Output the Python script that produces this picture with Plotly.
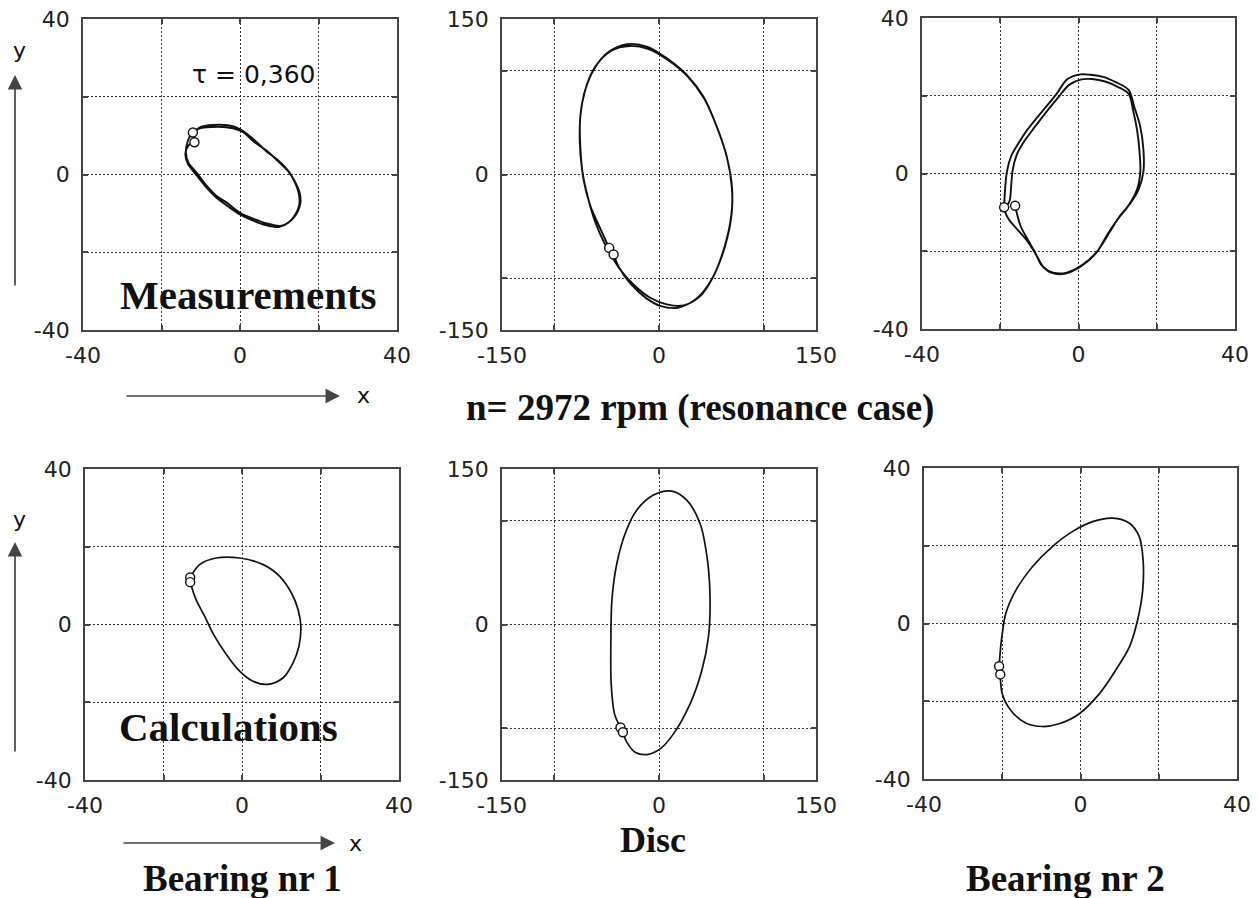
import plotly.graph_objects as go

# ---------------- data ----------------
# Measurements, bearing nr 1 (two revolutions)
meas_b1_x = [-12.0, -9.8, -5.0, -1.6, 0.3, 3.5, 6.9, 9.4, 12.0, 13.7, 15.2, 15.4, 14.5, 12.8, 10.3, 6.9, 3.5, 0.1, -3.3, -5.9, -8.4, -11.0, -13.1, -13.8, -13.3, -12.3,
             -10.5, -5.5, -1.8, 0.6, 3.8, 6.6, 9.6, 12.2, 13.9, 15.0, 15.1, 14.1, 12.3, 9.9, 6.5, 3.2, -0.2, -3.6, -6.2, -8.7, -11.3, -13.3, -13.9, -13.0, -11.6]
meas_b1_y = [10.8, 12.3, 12.8, 12.4, 11.5, 9.0, 5.8, 3.9, 1.3, -1.3, -4.7, -7.3, -9.9, -12.0, -13.2, -12.6, -11.4, -9.9, -7.3, -5.6, -3.0, 0.4, 3.0, 5.6, 8.6, 10.6,
             11.8, 12.3, 11.9, 11.0, 8.2, 6.3, 3.5, 0.9, -1.8, -5.0, -7.8, -10.3, -12.4, -13.5, -13.0, -11.8, -10.2, -7.8, -5.8, -3.2, 0.1, 2.8, 5.4, 7.6, 8.3]

# Measurements, disc (two revolutions)
meas_disc_x = [-47.6, -56.2, -65.7, -72.1, -75.2, -75.2, -70.5, -62.5, -49.8, -30.7, -11.6, 7.5, 26.5, 42.4, 55.2, 64.7, 69.5, 69.5, 63.1, 52.0, 39.3, 23.4, 7.5, -8.4, -24.4, -37.1, -45.0,
               -51.5, -60.5, -68.0, -73.5, -75.8, -74.0, -68.5, -59.5, -45.5, -28.0, -10.0, 8.5, 27.5, 43.0, 55.8, 65.0, 69.8, 69.0, 62.0, 50.5, 36.0, 18.0, 2.0, -12.0, -27.0, -38.0, -43.4]
meas_disc_y = [-70.8, -52.0, -30.0, -5.0, 27.1, 56.0, 81.6, 100.9, 116.9, 125.6, 123.4, 112.1, 96.1, 75.2, 46.3, 17.5, -11.4, -37.1, -69.2, -98.1, -117.3, -126.3, -125.3, -118.9, -106.1, -91.6, -79.0,
               -67.5, -47.0, -22.0, 5.0, 35.0, 66.0, 88.0, 106.0, 119.5, 124.0, 121.0, 110.5, 94.5, 73.5, 44.5, 16.0, -13.0, -40.0, -72.0, -101.0, -119.5, -128.5, -127.0, -119.5, -105.5, -90.0, -77.2]

# Measurements, bearing nr 2 (two revolutions)
meas_b2_x = [-19.0, -18.8, -18.3, -17.2, -15.5, -13.2, -10.5, -8.0, -5.6, -2.8, 0.5, 3.0, 6.5, 9.5, 12.8, 14.3, 15.8, 16.6, 16.6, 15.4, 13.0, 10.5, 8.0, 4.8, 1.0, -3.0, -6.5, -9.0, -10.5, -13.0, -16.0, -18.0, -18.8,
             -17.6, -17.2, -16.8, -15.8, -14.2, -12.2, -9.8, -7.4, -5.0, -2.4, 0.8, 3.5, 7.0, 10.0, 12.8, 14.0, 15.0, 15.6, 15.8, 15.0, 12.8, 10.0, 7.5, 4.5, 0.5, -3.5, -7.0, -9.5, -11.0, -12.5, -14.8, -16.2]
meas_b2_y = [-8.7, -4.5, 0.5, 4.5, 7.5, 11.1, 14.5, 17.5, 20.5, 24.3, 25.5, 25.4, 24.8, 23.5, 21.5, 17.0, 12.0, 6.0, 0.5, -4.0, -8.0, -11.0, -15.0, -20.0, -23.5, -25.5, -25.5, -24.0, -21.5, -17.5, -14.0, -11.5, -9.5,
             -7.0, -3.0, 1.0, 4.8, 7.8, 10.6, 13.8, 16.9, 19.8, 22.8, 24.2, 24.3, 23.6, 22.3, 20.5, 16.0, 11.0, 5.5, 0.5, -4.0, -8.2, -11.8, -15.5, -20.5, -24.0, -25.8, -25.5, -23.5, -20.5, -17.8, -13.5, -8.3]

# Calculations, bearing nr 1
calc_b1_x = [-13.2, -10.8, -6.6, -0.6, 5.4, 9.6, 12.6, 14.3, 15.0, 14.5, 13.0, 10.5, 6.6, 2.8, -1.0, -4.0, -7.0, -9.5, -11.7, -13.2]
calc_b1_y = [12.1, 15.4, 17.1, 17.1, 15.4, 12.4, 8.1, 3.8, -0.5, -5.6, -9.9, -13.7, -15.4, -14.6, -11.6, -7.7, -3.0, 2.1, 6.4, 10.9]

# Calculations, disc
calc_disc_x = [-36.8, -42.5, -45.7, -46.0, -45.0, -40.3, -32.3, -21.2, -5.3, 12.2, 26.5, 39.2, 46.3, 48.8, 47.2, 40.9, 29.7, 13.8, 1.1, -11.6, -22.8, -30.5, -34.5]
calc_disc_y = [-99.4, -86.2, -57.2, -18.5, 23.4, 58.8, 87.8, 110.4, 124.9, 128.7, 120.0, 97.5, 62.0, 23.4, -12.1, -44.3, -76.5, -105.5, -120.0, -125.5, -123.2, -114.0, -103.9]

# Calculations, bearing nr 2
calc_b2_x = [-20.8, -20.4, -20.1, -19.1, -16.5, -12.3, -7.2, -2.0, 3.1, 8.2, 12.5, 15.0, 16.0, 15.9, 14.6, 12.5, 9.0, 4.8, -0.3, -5.5, -9.7, -14.0, -17.8, -20.0, -20.5]
calc_b2_y = [-11.0, -6.0, -3.4, 2.6, 8.6, 14.6, 19.8, 23.7, 26.2, 27.1, 25.8, 22.4, 16.3, 8.6, 0.9, -6.0, -12.0, -18.1, -23.2, -25.8, -26.5, -25.6, -22.4, -18.1, -13.1]

bearing_ticks = [-40, -20, 0, 20, 40]
bearing_text = ["-40", "", "0", "", "40"]
disc_ticks = [-150, -100, 0, 100, 150]
disc_text = ["-150", "", "0", "", "150"]

series = [
    (meas_b1_x, meas_b1_y, 1, "b", 1.9),
    (meas_disc_x, meas_disc_y, 2, "d", 1.9),
    (meas_b2_x, meas_b2_y, 3, "b", 1.9),
    (calc_b1_x, calc_b1_y, 4, "b", 1.7),
    (calc_disc_x, calc_disc_y, 5, "d", 1.7),
    (calc_b2_x, calc_b2_y, 6, "b", 1.7),
]

W, H = 1258, 898
# panel boxes in pixels: (left, right, top, bottom)
boxes = {
    1: (83, 397, 19, 330),
    2: (502, 816, 19, 330),
    3: (922, 1235, 18, 329),
    4: (85, 399, 469, 780),
    5: (502, 816, 469, 780),
    6: (924, 1237, 468, 779),
}

fig = go.Figure()
layout = dict(
    width=W, height=H, autosize=False,
    margin=dict(l=0, r=0, t=0, b=0, pad=0),
    paper_bgcolor="white", plot_bgcolor="white",
    showlegend=False,
    font=dict(family="DejaVu Sans", size=22, color="#222"),
)

tickfont = dict(family="DejaVu Sans", size=22, color="#222")

for xs, ys, k, kind, lw in series:
    xa = "x" if k == 1 else f"x{k}"
    ya = "y" if k == 1 else f"y{k}"
    fig.add_trace(go.Scatter(x=xs, y=ys, xaxis=xa, yaxis=ya, mode="lines",
                             line=dict(color="#111", width=lw, shape="spline", smoothing=0.9),
                             hoverinfo="skip"))
    fig.add_trace(go.Scatter(x=[xs[0], xs[-1]], y=[ys[0], ys[-1]], xaxis=xa, yaxis=ya, mode="markers",
                             marker=dict(symbol="circle", size=9, color="white",
                                         line=dict(color="#111", width=1.4)),
                             hoverinfo="skip"))
    l, r, t, b = boxes[k]
    if kind == "b":
        tv, tt, rng = bearing_ticks, bearing_text, [-40, 40]
    else:
        tv, tt, rng = disc_ticks, disc_text, [-150, 150]
    common = dict(range=rng, tickvals=tv, ticktext=tt, showgrid=True, gridcolor="#333",
                  griddash="2px,2px", gridwidth=1.2, zeroline=False, showline=True,
                  linecolor="#444", linewidth=1.8, mirror="allticks", ticks="inside",
                  ticklen=5, tickwidth=1.8, tickcolor="#444", tickfont=tickfont,
                  ticklabelstandoff=5, automargin=False, fixedrange=True)
    xkey = "xaxis" if k == 1 else f"xaxis{k}"
    ykey = "yaxis" if k == 1 else f"yaxis{k}"
    layout[xkey] = dict(common, domain=[l / W, r / W], anchor=ya)
    layout[ykey] = dict(common, domain=[1 - b / H, 1 - t / H], anchor=xa, ticklabelstandoff=7)

fig.update_layout(**layout)

serif = "Liberation Serif, Times New Roman"
def px(x, y):
    return x / W, 1 - y / H

annotations = []
def text(s, x, y, size, family, bold=False):
    ax, ay = px(x, y)
    annotations.append(dict(text=s, x=ax, y=ay, xref="paper", yref="paper",
                            showarrow=False, xanchor="center", yanchor="middle",
                            font=dict(family=family, size=size, color="#111",
                                      weight="bold" if bold else "normal")))

text("τ = 0,360", 253, 75, 25, "DejaVu Sans")
text("Measurements", 248, 295, 41, serif, True)
text("Calculations", 228, 727, 41, serif, True)
text("n= 2972 rpm (resonance case)", 700, 408, 37, serif, True)
text("Disc", 653, 840, 36, serif, True)
text("Bearing nr 1", 242, 878, 37, serif, True)
text("Bearing nr 2", 1065, 878, 37, serif, True)
text("y", 19, 50, 22, "DejaVu Sans")
text("y", 19, 519, 22, "DejaVu Sans")
text("x", 363, 396, 22, "DejaVu Sans")
text("x", 355, 843, 22, "DejaVu Sans")

def arrow(hx, hy, tx, ty):
    ax, ay = px(hx, hy)
    annotations.append(dict(text="", x=ax, y=ay, xref="paper", yref="paper",
                            showarrow=True, ax=tx - hx, ay=ty - hy,
                            arrowhead=2, arrowsize=1.7, arrowwidth=1.7, arrowcolor="#444"))

arrow(15, 75, 15, 287)
arrow(340, 396, 125, 396)
arrow(15, 542, 15, 753)
arrow(335, 843, 122, 843)

fig.update_layout(annotations=annotations)
fig.write_html("out.html")
